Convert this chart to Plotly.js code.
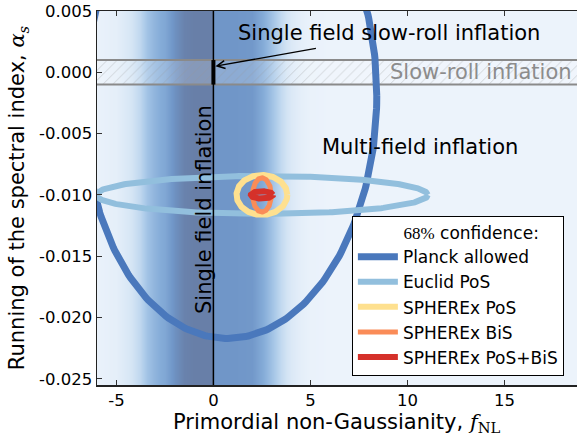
<!DOCTYPE html>
<html>
<head>
<meta charset="utf-8">
<script src="https://cdn.plot.ly/plotly-3.0.1.min.js"></script>
<style>html,body{margin:0;padding:0;background:#fff;}</style>
</head>
<body>
<div id="chart" style="width:577px;height:437px;"></div>
<script>
// 68% confidence contours in the (f_NL, alpha_s) plane
const contourNames   = ['Planck allowed', 'Euclid PoS', 'SPHEREx PoS', 'SPHEREx BiS', 'SPHEREx PoS+BiS'];
const centerFNL      = [0.87, 2.5, 2.5, 2.5, 2.5];
const centerAlpha    = [-0.0023, -0.0100, -0.0100, -0.0100, -0.0100];
const halfWidthFNL   = [7.55, 8.55, 1.31, 0.48, 0.57];
const halfWidthAlpha = [0.0194, 0.00155, 0.00163, 0.0014, 0.0003];
const correlation    = [0.02, 0, 0, 0, 0];

// Background shading across f_NL (0 = light, 1 = dark)
const shadeFNL   = [-8, -6, -5, -4.4, -3.8, -3.4, -3, -2.5, -2, -1.5, -1, -0.03, 0.03, 1, 2, 2.5, 3, 3.5, 4, 4.5, 5, 6, 20];
const shadeLevel = [0, 0.02, 0.06, 0.15, 0.3, 0.45, 0.55, 0.65, 0.85, 0.97, 1.0, 1.0, 0.8, 0.8, 0.78, 0.62, 0.45, 0.28, 0.14, 0.06, 0.02, 0, 0];

// Slow-roll band in alpha_s
const slowRollAlpha = [-0.001, 0.001];

// Axis ticks
const xTickVals   = [-5, 0, 5, 10, 15];
const xTickLabels = ['-5', '0', '5', '10', '15'];
const yTickVals   = [0.005, 0.0, -0.005, -0.010, -0.015, -0.020, -0.025];
const yTickLabels = ['0.005', '0.000', '-0.005', '-0.010', '-0.015', '-0.020', '-0.025'];

const lineColors = ['#4a78bc', '#92bfdd', '#fee08f', '#fa8c58', '#d5312a'];
const lineWidths = [7, 6, 6, 5, 6];

const FONT = 'DejaVu Sans, sans-serif';

function ellipsePath(i) {
  const xs = [], ys = [];
  const r = correlation[i], s = Math.sqrt(1 - r * r);
  for (let k = 0; k <= 360; k++) {
    const t = k * Math.PI / 180;
    xs.push(centerFNL[i] + halfWidthFNL[i] * Math.cos(t));
    ys.push(centerAlpha[i] + halfWidthAlpha[i] * (r * Math.cos(t) + s * Math.sin(t)));
  }
  return {xs, ys};
}

const traces = [];

traces.push({
  type: 'heatmap',
  x: shadeFNL,
  y: [-0.03, 0.01],
  z: [shadeLevel, shadeLevel],
  zmin: 0, zmax: 1,
  zsmooth: 'best',
  colorscale: [
    [0.0, '#ecf3fb'],
    [0.2, '#d3e4f4'],
    [0.4, '#abcae9'],
    [0.6, '#85acd8'],
    [0.8, '#7096c8'],
    [1.0, '#687fa8']
  ],
  showscale: false,
  hoverinfo: 'skip',
  showlegend: false
});

// hatched slow-roll band
traces.push({
  type: 'scatter',
  mode: 'lines',
  x: [-8, 20, 20, -8, -8],
  y: [slowRollAlpha[0], slowRollAlpha[0], slowRollAlpha[1], slowRollAlpha[1], slowRollAlpha[0]],
  fill: 'toself',
  fillcolor: 'rgba(255,255,255,0.2)',
  fillpattern: {shape: '/', fgcolor: 'rgba(150,150,150,0.5)', bgcolor: 'rgba(255,255,255,0.2)', size: 7, solidity: 0.1},
  line: {color: '#8a8a8a', width: 2},
  hoverinfo: 'skip',
  showlegend: false
});

// single-field slow-roll point
traces.push({
  type: 'scatter',
  mode: 'lines',
  x: [0, 0],
  y: slowRollAlpha,
  line: {color: '#000', width: 4},
  hoverinfo: 'skip',
  showlegend: false
});

for (let i = 0; i < contourNames.length; i++) {
  const e = ellipsePath(i);
  traces.push({
    type: 'scatter',
    mode: 'lines',
    name: contourNames[i],
    x: e.xs,
    y: e.ys,
    line: {color: lineColors[i], width: lineWidths[i]},
    hoverinfo: 'skip'
  });
}

const layout = {
  width: 577,
  height: 437,
  margin: {l: 97, r: 0, t: 11, b: 52},
  paper_bgcolor: '#fff',
  plot_bgcolor: '#fff',
  font: {family: FONT, color: '#000'},
  showlegend: true,
  xaxis: {
    range: [-6, 18.74],
    tickvals: xTickVals,
    ticktext: xTickLabels,
    ticks: 'inside',
    ticklen: 5,
    tickwidth: 1,
    tickcolor: '#333',
    showline: true,
    linecolor: '#222',
    linewidth: 1.5,
    mirror: 'ticks',
    showgrid: false,
    zeroline: false,
    tickfont: {size: 16.5, family: FONT}
  },
  yaxis: {
    range: [-0.0255, 0.005],
    tickvals: yTickVals,
    ticktext: yTickLabels,
    ticks: 'inside',
    ticklen: 5,
    tickwidth: 1,
    tickcolor: '#333',
    showline: true,
    linecolor: '#222',
    linewidth: 1.5,
    showgrid: false,
    zeroline: false,
    tickfont: {size: 16.5, family: FONT},
    title: {
      text: "Running of the spectral index, <span style=\"font-family:'DejaVu Serif'\"><i>α</i><sub><i>s</i></sub></span>",
      font: {size: 21, family: FONT},
      standoff: 8
    }
  },
  legend: {
    x: 0.531, y: 0.024,
    xanchor: 'left', yanchor: 'bottom',
    bgcolor: '#fff',
    bordercolor: '#000',
    borderwidth: 1,
    font: {size: 17, family: FONT},
    itemwidth: 40,
    title: {
      text: "\u00a0\u00a0\u00a0\u00a0\u00a0\u00a0\u00a0\u00a0\u00a0<span style=\"font-family:'Liberation Serif'\">68%</span> confidence:",
      font: {size: 17, family: FONT}
    }
  },
  shapes: [
    {type: 'line', xref: 'x', yref: 'paper', x0: 0, x1: 0, y0: 0, y1: 1,
     line: {color: '#000', width: 1.5}, layer: 'above'}
  ],
  annotations: [
    // x-axis title
    {x: 0.5, y: -0.062, xref: 'paper', yref: 'paper', xanchor: 'center', yanchor: 'top',
     text: "Primordial non-Gaussianity, <span style=\"font-family:'DejaVu Serif'\"><i>f</i><sub>NL</sub></span>",
     showarrow: false, font: {size: 21, family: FONT, color: '#000'}},
    {x: 9.07, y: 0.0032, xref: 'x', yref: 'y', text: 'Single field slow-roll inflation',
     showarrow: false, font: {size: 21, family: FONT, color: '#000'}},
    {x: 0.1, y: 0.0005, xref: 'x', yref: 'y', ax: 5.36, ay: 0.00197, axref: 'x', ayref: 'y',
     text: '', showarrow: true, arrowhead: 5, arrowsize: 1.2, arrowwidth: 1.3, arrowcolor: '#000', standoff: 0},
    {x: 9.0, y: 0.0, xref: 'x', yref: 'y', xanchor: 'left', yanchor: 'middle', text: 'Slow-roll inflation',
     showarrow: false, font: {size: 21, family: FONT, color: '#8c8c8c'}},
    {x: 5.5, y: -0.0061, xref: 'x', yref: 'y', xanchor: 'left', yanchor: 'middle', text: 'Multi-field inflation',
     showarrow: false, font: {size: 21, family: FONT, color: '#000'}},
    {x: -0.52, y: -0.0112, xref: 'x', yref: 'y', text: 'Single field inflation', textangle: -90,
     showarrow: false, font: {size: 21, family: FONT, color: '#000'}}
  ]
};

Plotly.newPlot('chart', traces, layout, {displayModeBar: false, staticPlot: true});
</script>
</body>
</html>
